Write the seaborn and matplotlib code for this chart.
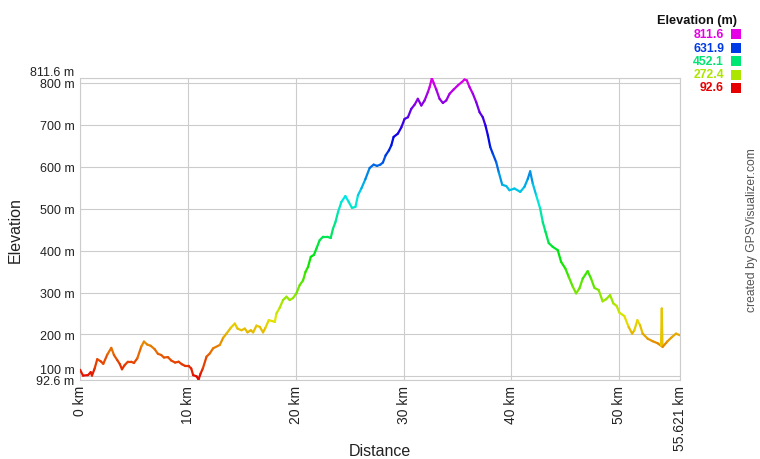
import colorsys
import pandas as pd
import matplotlib
matplotlib.use("Agg")
import matplotlib.pyplot as plt
from matplotlib.patches import Rectangle
import seaborn as sns

# ---------------- data ----------------
distance_km = [
    0.00, 0.28, 0.74, 0.99, 1.11, 1.36, 1.60, 1.92, 2.16, 2.53, 2.90, 3.15, 3.45,
    3.70, 3.89, 4.14, 4.44, 4.75, 5.00, 5.31, 5.68, 5.93, 6.23, 6.55, 6.92, 7.22,
    7.53, 7.78, 8.15, 8.45, 8.82, 9.14, 9.44, 9.75, 10.06, 10.31, 10.49, 10.81,
    10.99, 11.18, 11.39, 11.73, 12.04, 12.34, 12.96, 13.27, 13.58, 13.98, 14.35,
    14.60, 14.97, 15.28, 15.53, 15.83, 16.05, 16.36, 16.67, 16.97, 17.19, 17.50,
    17.81, 18.06, 18.21, 18.52, 18.82, 19.14, 19.44, 19.75, 20.06, 20.37, 20.68,
    20.90, 21.14, 21.39, 21.69, 21.92, 22.22, 22.53, 22.94, 23.24, 23.45, 23.68,
    23.92, 24.23, 24.60, 24.91, 25.21, 25.53, 25.77, 26.08, 26.45, 26.85, 27.22,
    27.53, 27.84, 28.08, 28.33, 28.64, 28.86, 29.07, 29.47, 29.79, 30.09, 30.40,
    30.71, 31.02, 31.32, 31.64, 31.94, 32.25, 32.41, 32.62, 32.78, 33.03, 33.33,
    33.64, 33.95, 34.26, 34.63, 35.03, 35.40, 35.65, 35.86, 36.11, 36.42, 36.73,
    37.04, 37.34, 37.59, 37.81, 38.03, 38.27, 38.58, 38.82, 39.14, 39.51, 39.81,
    40.28, 40.81, 41.20, 41.51, 41.73, 41.97, 42.29, 42.66, 42.90, 43.15, 43.45,
    43.82, 44.29, 44.60, 45.00, 45.31, 45.68, 45.99, 46.30, 46.60, 47.06, 47.38,
    47.69, 48.08, 48.45, 48.77, 49.14, 49.44, 49.75, 50.00, 50.46, 50.86, 51.18,
    51.39, 51.67, 51.92, 52.16, 52.62, 53.08, 53.55, 53.86, 53.93, 54.00, 54.47,
    54.88, 55.25, 55.621,
]
elevation_m = [
    116, 102, 103, 110, 102, 119, 141, 136, 130, 152, 168, 151, 139,
    129, 117, 127, 135, 135, 132, 143, 171, 183, 176, 173, 165, 154,
    151, 145, 146, 138, 133, 135, 129, 125, 125, 119, 103, 100,
    92.6, 107, 119, 147, 155, 167, 175, 192, 202, 216, 226,
    214, 210, 214, 205, 210, 205, 221, 218, 205, 216, 234,
    232, 230, 250, 264, 282, 290, 282, 287, 298, 318, 329,
    349, 361, 385, 390, 405, 425, 433, 433, 430, 452, 468,
    492, 516, 530, 516, 502, 504, 532, 548, 570, 597, 605,
    602, 605, 610, 627, 639, 651, 671, 679, 694, 714, 718,
    738, 748, 762, 746, 758, 778, 790, 811.6, 800, 784, 762,
    752, 758, 774, 784, 794, 802, 808, 806, 790, 774, 754,
    730, 718, 698, 675, 647, 631, 611, 587, 557, 554, 544,
    548, 540, 552, 571, 589, 560, 532, 500, 468, 445, 418,
    409, 401, 373, 357, 337, 314, 298, 310, 333, 351, 333,
    311, 306, 279, 284, 294, 274, 268, 252, 244, 218, 202,
    210, 234, 222, 202, 190, 184, 179, 173, 262, 170, 184,
    194, 202, 198,
]

x_ticks = [0, 10, 20, 30, 40, 50, 55.621]
x_tick_labels = ["0 km", "10 km", "20 km", "30 km", "40 km", "50 km", "55.621 km"]
y_ticks = [92.6, 100, 200, 300, 400, 500, 600, 700, 800, 811.6]
y_tick_labels = ["92.6 m", "100 m", "200 m", "300 m", "400 m", "500 m",
                 "600 m", "700 m", "800 m", "811.6 m"]
legend_values = ["811.6", "631.9", "452.1", "272.4", "92.6"]

e_min, e_max = 92.6, 811.6


def elev_color(e):
    # hue runs red (low) -> magenta (high)
    frac = (e - e_min) / (e_max - e_min)
    return colorsys.hsv_to_rgb(frac * 300 / 360, 1.0, 0.9)


# one little two-point line per step, so each step gets its own colour
rows = []
seg_colors = {}
for i in range(len(distance_km) - 1):
    rows.append((distance_km[i], elevation_m[i], i))
    rows.append((distance_km[i + 1], elevation_m[i + 1], i))
    seg_colors[i] = elev_color((elevation_m[i] + elevation_m[i + 1]) / 2)
seg_df = pd.DataFrame(rows, columns=["km", "m", "seg"])

# ---------------- figure ----------------
sns.set_style("white")
plt.rcParams["font.family"] = ["Liberation Sans", "DejaVu Sans"]

fig = plt.figure(figsize=(7.6, 4.6), dpi=100)
ax = fig.add_axes([80 / 760, 1 - 380.5 / 460, 600 / 760, 301.5 / 460])

sns.lineplot(data=seg_df, x="km", y="m", hue="seg", palette=seg_colors,
             estimator=None, sort=False, legend=False, linewidth=1.6,
             solid_capstyle="round", ax=ax, zorder=3)

ax.set_xlim(0, 55.621)
ax.set_ylim(e_min, e_max)
ax.set_xticks(x_ticks)
ax.set_xticklabels(x_tick_labels, rotation=90, fontsize=10, color="#222222")
ax.set_yticks(y_ticks)
ax.set_yticklabels(y_tick_labels, fontsize=9, color="#222222")
ax.tick_params(axis="both", length=0)
ax.tick_params(axis="x", pad=4)
ax.tick_params(axis="y", pad=4)
for lab in ax.get_yticklabels():
    if lab.get_text() in ("811.6 m", "100 m"):
        lab.set_verticalalignment("bottom")

ax.grid(True, color="#cccccc", linewidth=0.8)
for sp in ax.spines.values():
    sp.set_color("#cccccc")
    sp.set_linewidth(0.8)

ax.set_xlabel("")
ax.set_ylabel("")
fig.text(15 / 760, 1 - 230 / 460, "Elevation", rotation=90, fontsize=11.5,
         ha="center", va="center", color="#222222")
fig.text(380 / 760, 1 - 452 / 460, "Distance", fontsize=11.5,
         ha="center", va="center", color="#222222")

fig.text(752 / 760, 1 - 230 / 460, "created by GPSVisualizer.com", rotation=90,
         fontsize=8.7, ha="center", va="center", color="#555555")

# colour key at top right
fig.text(737 / 760, 1 - 21 / 460, "Elevation (m)", fontsize=9.2, fontweight="bold",
         ha="right", va="center", color="#111111")
row_y = [35, 49, 62, 75.5, 88.5]
for val, yy in zip(legend_values, row_y):
    col = elev_color(float(val))
    fig.text(724 / 760, 1 - yy / 460, val, fontsize=8.8, fontweight="bold",
             ha="right", va="center", color=col)
    fig.patches.append(Rectangle((731 / 760, 1 - (yy + 5) / 460), 10 / 760, 10 / 460,
                                 transform=fig.transFigure, facecolor=col,
                                 edgecolor="none"))

fig.savefig("out.png", dpi=100)
plt.close(fig)
